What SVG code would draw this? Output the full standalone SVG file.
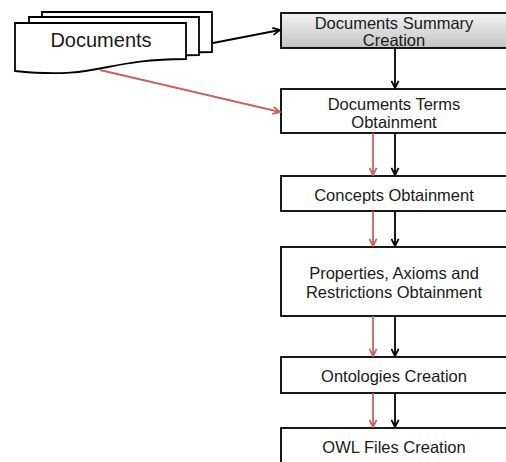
<svg xmlns="http://www.w3.org/2000/svg" width="506" height="462" viewBox="0 0 506 462">
  <defs>
    <linearGradient id="grayFill" x1="0" y1="0" x2="0" y2="1">
      <stop offset="0" stop-color="#f2f2f2"/>
      <stop offset="1" stop-color="#c4c4c4"/>
    </linearGradient>
    <marker id="headBlack" viewBox="0 0 10 10" refX="9" refY="5" markerWidth="9" markerHeight="9" markerUnits="userSpaceOnUse" orient="auto">
      <path d="M1,1 L9,5 L1,9" fill="none" stroke="#000" stroke-width="2"/>
    </marker>
    <marker id="headRed" viewBox="0 0 10 10" refX="9" refY="5" markerWidth="9" markerHeight="9" markerUnits="userSpaceOnUse" orient="auto">
      <path d="M1,1 L9,5 L1,9" fill="none" stroke="#c8615f" stroke-width="2"/>
    </marker>
  </defs>
  <style>
    .box { fill: #ffffff; stroke: #000000; stroke-width: 1.8; }
    .doc { fill: #ffffff; stroke: #000000; stroke-width: 1.8; }
    .lbl { font-family: "Liberation Sans", Arial, sans-serif; font-size: 16.5px; fill: #1a1a1a; text-anchor: middle; }
    .black { stroke: #000000; stroke-width: 1.8; fill: none; marker-end: url(#headBlack); }
    .red { stroke: #c8615f; stroke-width: 1.8; fill: none; marker-end: url(#headRed); }
  </style>

  <rect width="506" height="462" fill="#ffffff"/>

  <!-- multi-document stack -->
  <g id="documents">
    <path class="doc" d="M42,12 H212 V52 C126,52 126,72 42,66 Z"/>
    <path class="doc" d="M29,17 H199 V55 C113,55 113,75 29,69 Z"/>
    <path class="doc" d="M15,23 H186 V59 C101,59 101,80 15,71 Z"/>
    <text class="lbl" x="101" y="47" style="font-size:20px">Documents</text>
  </g>

  <g id="summary">
    <rect x="281" y="13" width="228" height="35" fill="url(#grayFill)" stroke="#000" stroke-width="1.8"/>
    <text class="lbl" x="394" y="29">Documents Summary</text>
    <text class="lbl" x="394" y="46">Creation</text>
  </g>

  <g id="terms">
    <rect class="box" x="281" y="89" width="228" height="44"/>
    <text class="lbl" x="394" y="110">Documents Terms</text>
    <text class="lbl" x="394" y="128">Obtainment</text>
  </g>

  <g id="concepts">
    <rect class="box" x="281" y="176" width="228" height="35"/>
    <text class="lbl" x="394" y="201">Concepts Obtainment</text>
  </g>

  <g id="properties">
    <rect class="box" x="281" y="247" width="228" height="69"/>
    <text class="lbl" x="394" y="279">Properties, Axioms and</text>
    <text class="lbl" x="394" y="298">Restrictions Obtainment</text>
  </g>

  <g id="ontologies">
    <rect class="box" x="281" y="357" width="228" height="36"/>
    <text class="lbl" x="394" y="382">Ontologies Creation</text>
  </g>

  <g id="owl">
    <rect class="box" x="281" y="428" width="228" height="40"/>
    <text class="lbl" x="394" y="453">OWL Files Creation</text>
  </g>

  <g id="connectors">
    <line class="black" x1="213" y1="43" x2="280" y2="30"/>
    <line class="red" x1="100" y1="70" x2="280" y2="112"/>
    <line class="black" x1="395" y1="48" x2="395" y2="88"/>
    <line class="red" x1="373" y1="133" x2="373" y2="175"/>
    <line class="black" x1="395" y1="133" x2="395" y2="175"/>
    <line class="red" x1="373" y1="211" x2="373" y2="246"/>
    <line class="black" x1="395" y1="211" x2="395" y2="246"/>
    <line class="red" x1="373" y1="316" x2="373" y2="356"/>
    <line class="black" x1="395" y1="316" x2="395" y2="356"/>
    <line class="red" x1="373" y1="393" x2="373" y2="427"/>
    <line class="black" x1="395" y1="393" x2="395" y2="427"/>
  </g>
</svg>
